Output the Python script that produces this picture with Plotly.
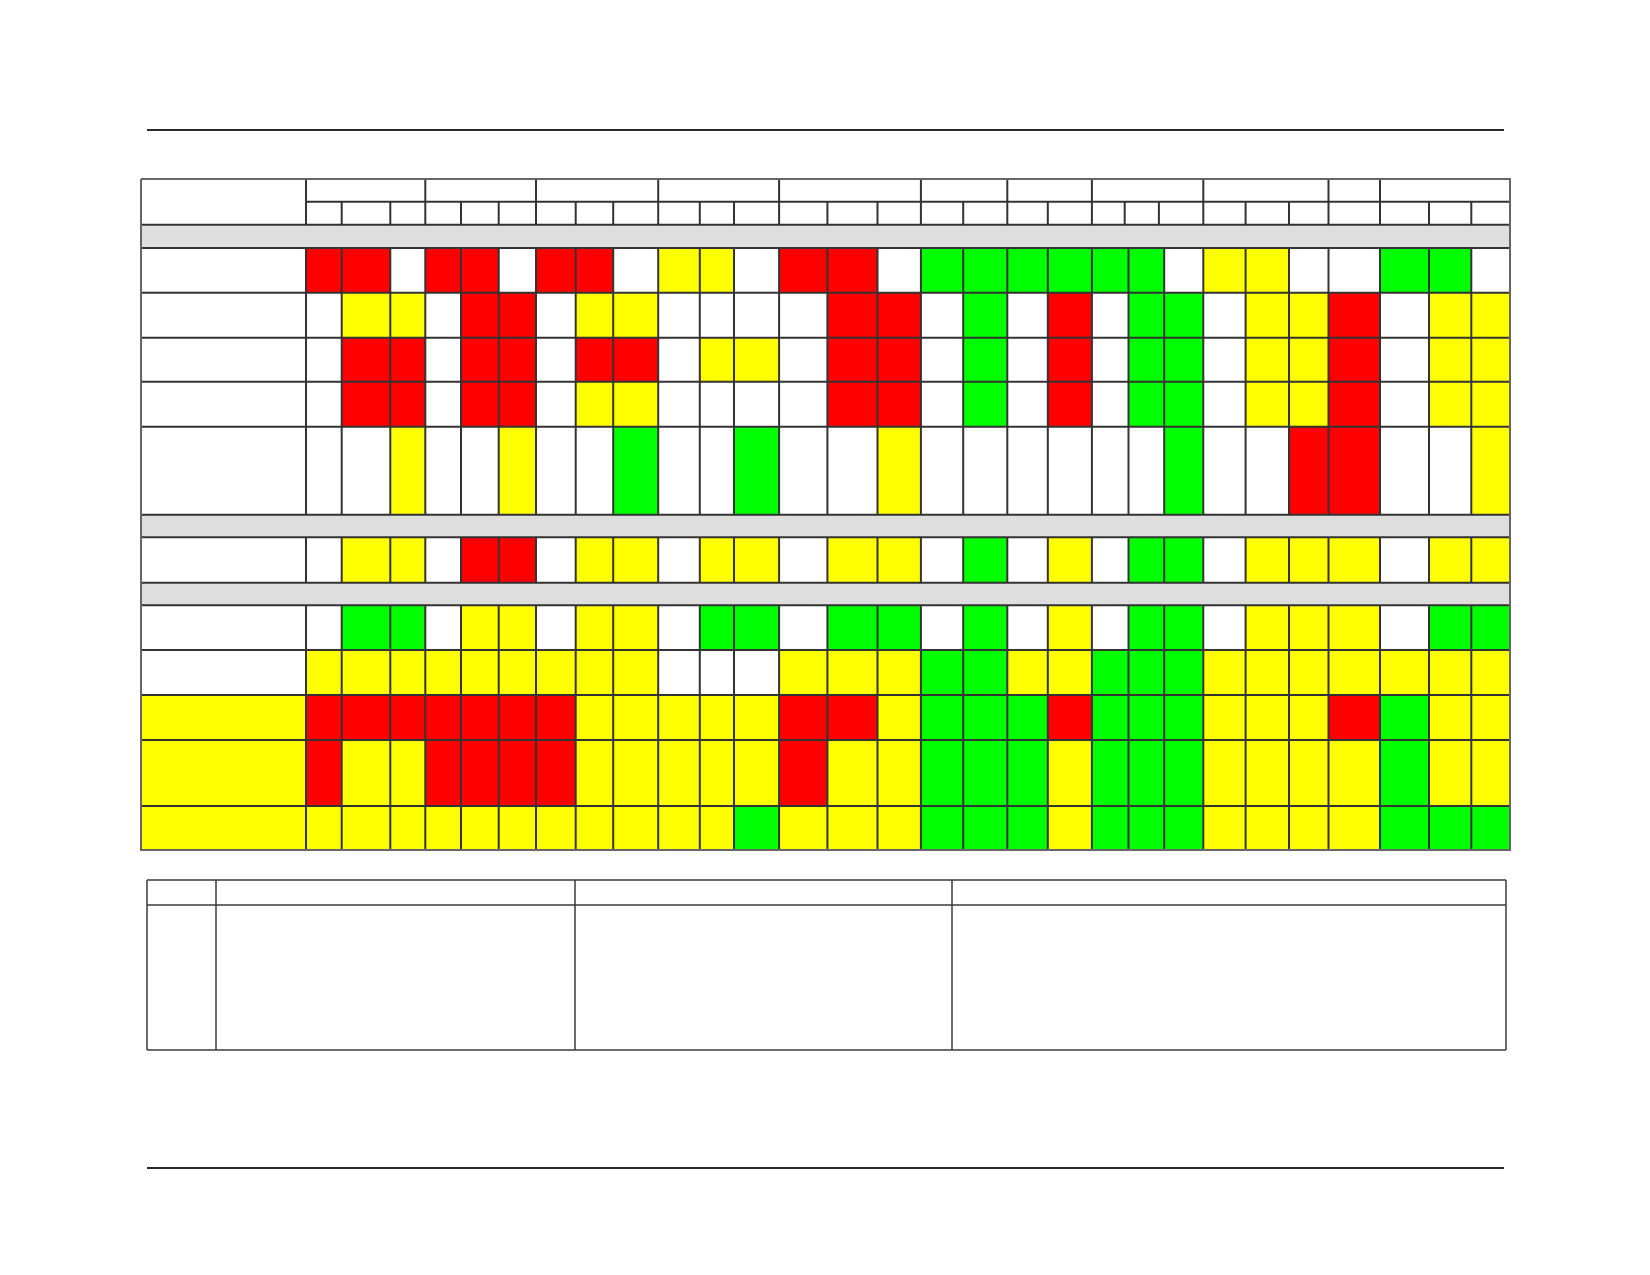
import plotly.graph_objects as go

# colour codes: W white, Y yellow, R red, G green, S grey section band
CODES = {"W": 0, "Y": 1, "R": 2, "G": 3, "S": 4}

# number of sub-columns under each top header cell
header_groups = [3, 3, 3, 3, 3, 2, 2, 3, 3, 1, 3]

# fill of the first (label) column for the eleven data rows
label_fill = ["W", "W", "W", "W", "W", "W", "W", "W", "Y", "Y", "Y"]

# one list per data row, 29 cells each
row1 = ["R", "R", "W", "R", "R", "W", "R", "R", "W", "Y", "Y", "W", "R", "R", "W",
        "G", "G", "G", "G", "G", "G", "W", "Y", "Y", "W", "W", "G", "G", "W"]
row2 = ["W", "Y", "Y", "W", "R", "R", "W", "Y", "Y", "W", "W", "W", "W", "R", "R",
        "W", "G", "W", "R", "W", "G", "G", "W", "Y", "Y", "R", "W", "Y", "Y"]
row3 = ["W", "R", "R", "W", "R", "R", "W", "R", "R", "W", "Y", "Y", "W", "R", "R",
        "W", "G", "W", "R", "W", "G", "G", "W", "Y", "Y", "R", "W", "Y", "Y"]
row4 = ["W", "R", "R", "W", "R", "R", "W", "Y", "Y", "W", "W", "W", "W", "R", "R",
        "W", "G", "W", "R", "W", "G", "G", "W", "Y", "Y", "R", "W", "Y", "Y"]
row5 = ["W", "W", "Y", "W", "W", "Y", "W", "W", "G", "W", "W", "G", "W", "W", "Y",
        "W", "W", "W", "W", "W", "W", "G", "W", "W", "R", "R", "W", "W", "Y"]
row6 = ["W", "Y", "Y", "W", "R", "R", "W", "Y", "Y", "W", "Y", "Y", "W", "Y", "Y",
        "W", "G", "W", "Y", "W", "G", "G", "W", "Y", "Y", "Y", "W", "Y", "Y"]
row7 = ["W", "G", "G", "W", "Y", "Y", "W", "Y", "Y", "W", "G", "G", "W", "G", "G",
        "W", "G", "W", "Y", "W", "G", "G", "W", "Y", "Y", "Y", "W", "G", "G"]
row8 = ["Y", "Y", "Y", "Y", "Y", "Y", "Y", "Y", "Y", "W", "W", "W", "Y", "Y", "Y",
        "G", "G", "Y", "Y", "G", "G", "G", "Y", "Y", "Y", "Y", "Y", "Y", "Y"]
row9 = ["R", "R", "R", "R", "R", "R", "R", "Y", "Y", "Y", "Y", "Y", "R", "R", "Y",
        "G", "G", "G", "R", "G", "G", "G", "Y", "Y", "Y", "R", "G", "Y", "Y"]
row10 = ["R", "Y", "Y", "R", "R", "R", "R", "Y", "Y", "Y", "Y", "Y", "R", "Y", "Y",
         "G", "G", "G", "Y", "G", "G", "G", "Y", "Y", "Y", "Y", "G", "Y", "Y"]
row11 = ["Y", "Y", "Y", "Y", "Y", "Y", "Y", "Y", "Y", "Y", "Y", "G", "Y", "Y", "Y",
         "G", "G", "G", "Y", "G", "G", "G", "Y", "Y", "Y", "Y", "G", "G", "G"]

data_rows = [row1, row2, row3, row4, row5, row6, row7, row8, row9, row10, row11]

# ---- layout (page pixels) ----
col_edges = [141, 306, 341.7, 390.3, 425.3, 461, 498.7, 536, 575.7, 613.2, 658.2,
             699.8, 734, 779.1, 827.4, 877.5, 920.9, 963.2, 1007.3, 1047.8, 1091.9,
             1128.5, 1164.2, 1203.3, 1245.6, 1289, 1328.5, 1380, 1429, 1471.3, 1510]
# second header row has two lines slightly off the data grid
hdr_edges = col_edges[:21] + [1124.7, 1158.9] + col_edges[23:]
row_edges = [179, 201.7, 224.7, 248, 292.7, 337.7, 381.7, 426.7, 514.7, 537.3,
             582.7, 605.3, 650, 695, 740, 806, 850]
row_kind = ["hA", "hB", "S", "D", "D", "D", "D", "D", "S", "D", "S", "D", "D", "D", "D", "D"]

notes_x = [147, 216, 575, 952, 1506]
notes_y = [880, 905, 1050]
rule_y = [130, 1168]
rule_x = [147, 1504]

W, H = 1650, 1275
PAD = 8  # default page margin around the plot div

# build heatmap matrix
ncols = len(col_edges) - 1
z = []
it = iter(range(len(data_rows)))
for kind in row_kind:
    if kind in ("hA", "hB"):
        z.append([0] * ncols)
    elif kind == "S":
        z.append([4] * ncols)
    else:
        i = next(it)
        z.append([CODES[label_fill[i]]] + [CODES[c] for c in data_rows[i]])

colorscale = [
    [0.0, "#ffffff"], [0.2, "#ffffff"],
    [0.2, "#ffff00"], [0.4, "#ffff00"],
    [0.4, "#ff0000"], [0.6, "#ff0000"],
    [0.6, "#00ff00"], [0.8, "#00ff00"],
    [0.8, "#dedede"], [1.0, "#dedede"],
]

fig = go.Figure()
fig.add_trace(go.Heatmap(x=col_edges, y=row_edges, z=z, zmin=0, zmax=4,
                         colorscale=colorscale, showscale=False, hoverinfo="skip"))

# grid lines
group_edges = [col_edges[0], col_edges[1]]
k = 1
for g in header_groups:
    k += g
    group_edges.append(col_edges[k])

gx, gy = [], []
for i, y in enumerate(row_edges):
    x0 = col_edges[1] if i == 1 else col_edges[0]
    gx += [x0, col_edges[-1], None]
    gy += [y, y, None]
for r, kind in enumerate(row_kind):
    y0, y1 = row_edges[r], row_edges[r + 1]
    if kind == "S":
        continue
    xs = group_edges if kind == "hA" else hdr_edges if kind == "hB" else col_edges
    for x in xs:
        gx += [x, x, None]
        gy += [y0, y1, None]
fig.add_trace(go.Scatter(x=gx, y=gy, mode="lines", hoverinfo="skip",
                         line=dict(color="#333333", width=2)))

# outer border
fig.add_trace(go.Scatter(
    x=[col_edges[0], col_edges[-1], col_edges[-1], col_edges[0], col_edges[0]],
    y=[row_edges[0], row_edges[0], row_edges[-1], row_edges[-1], row_edges[0]],
    mode="lines", hoverinfo="skip", line=dict(color="#666666", width=2)))

# notes table underneath
nx, ny = [], []
for y in notes_y:
    nx += [notes_x[0], notes_x[-1], None]
    ny += [y, y, None]
for x in notes_x:
    nx += [x, x, None]
    ny += [notes_y[0], notes_y[-1], None]
fig.add_trace(go.Scatter(x=nx, y=ny, mode="lines", hoverinfo="skip",
                         line=dict(color="#3a3a3a", width=1.5)))

# page rules
rx, ry = [], []
for y in rule_y:
    rx += [rule_x[0], rule_x[1], None]
    ry += [y, y, None]
fig.add_trace(go.Scatter(x=rx, y=ry, mode="lines", hoverinfo="skip",
                         line=dict(color="#2a2a2a", width=2)))

fig.update_layout(
    width=W - 2 * PAD, height=H - 2 * PAD, autosize=False,
    margin=dict(l=0, r=0, t=0, b=0),
    paper_bgcolor="white", plot_bgcolor="white",
    showlegend=False,
    xaxis=dict(range=[PAD, W - PAD], visible=False, fixedrange=True),
    yaxis=dict(range=[H - PAD, PAD], visible=False, fixedrange=True),
)

fig.write_html("out.html")
